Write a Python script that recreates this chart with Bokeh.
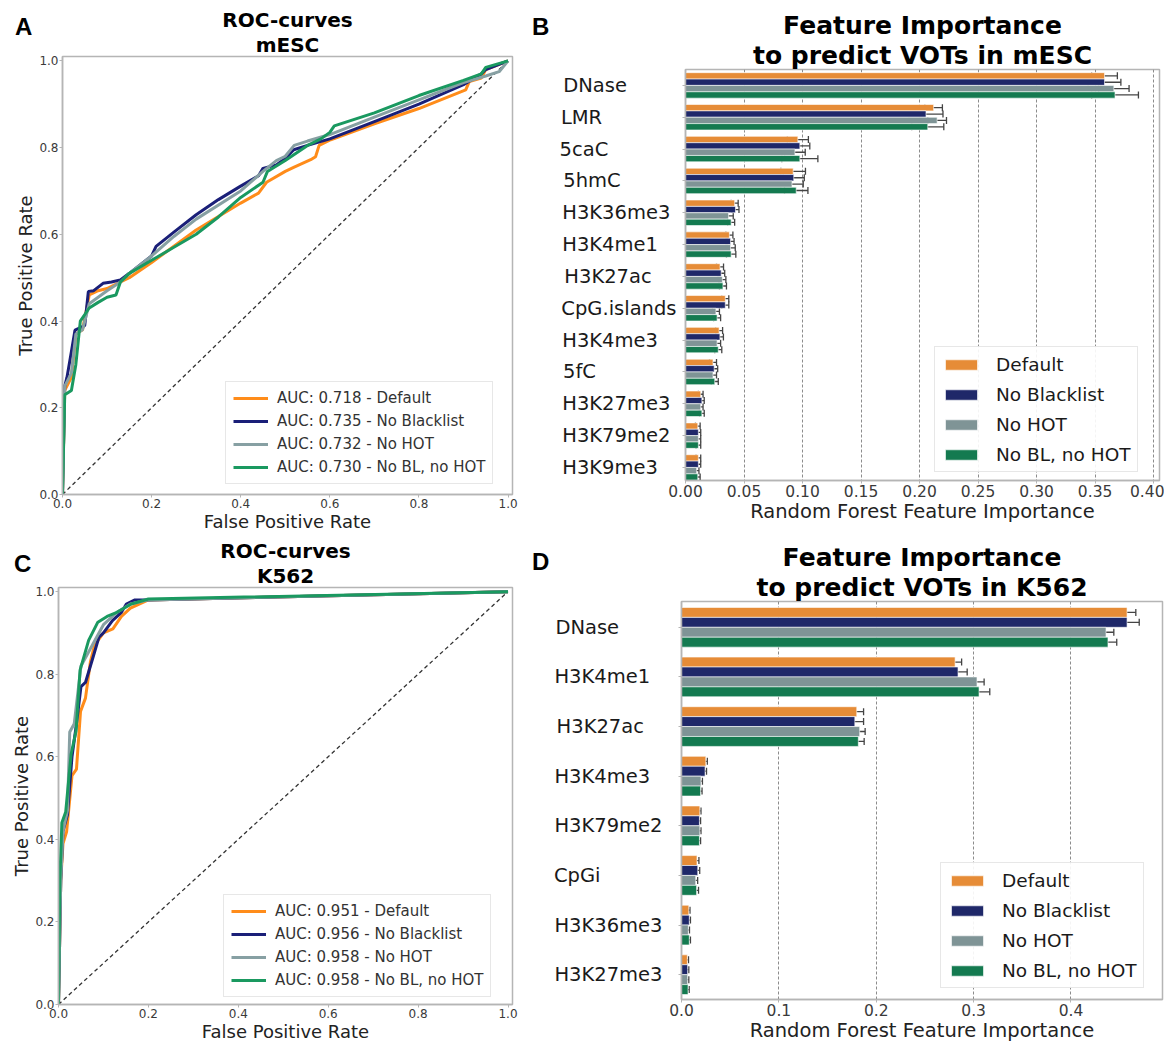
from bokeh.plotting import figure
from bokeh.layouts import row, column
from bokeh.models import (ColumnDataSource, Range1d, FixedTicker, PrintfTickFormatter,
                          Title, Whisker, TeeHead, Div)
from bokeh.embed import file_html
from bokeh.resources import INLINE

# ---------------- data ----------------
series_names = ["Default", "No Blacklist", "No HOT", "No BL, no HOT"]

# ROC mESC
mesc_auc = ["0.718", "0.735", "0.732", "0.730"]
mesc_default_fpr = [0, 0.005, 0.02, 0.03, 0.045, 0.06, 0.08, 0.1, 0.15, 0.2, 0.3, 0.4, 0.44, 0.458, 0.5, 0.52, 0.557, 0.568, 0.576, 0.602, 0.7, 0.8, 0.905, 0.913, 0.94, 0.95, 1.0]
mesc_default_tpr = [0, 0.24, 0.27, 0.37, 0.38, 0.46, 0.47, 0.475, 0.5, 0.535, 0.61, 0.672, 0.695, 0.72, 0.745, 0.755, 0.772, 0.779, 0.805, 0.818, 0.855, 0.89, 0.933, 0.952, 0.96, 0.98, 1.0]
mesc_noblack_fpr = [0, 0.005, 0.01, 0.02, 0.028, 0.045, 0.05, 0.058, 0.07, 0.091, 0.11, 0.13, 0.15, 0.2, 0.21, 0.25, 0.3, 0.35, 0.398, 0.44, 0.45, 0.48, 0.5, 0.519, 0.55, 0.6, 0.7, 0.8, 0.9, 0.94, 0.95, 1.0]
mesc_noblack_tpr = [0, 0.25, 0.27, 0.33, 0.379, 0.387, 0.39, 0.468, 0.47, 0.487, 0.49, 0.495, 0.51, 0.55, 0.572, 0.605, 0.645, 0.68, 0.71, 0.735, 0.752, 0.76, 0.775, 0.795, 0.805, 0.82, 0.86, 0.9, 0.945, 0.97, 0.98, 1.0]
mesc_nohot_fpr = [0, 0.005, 0.02, 0.03, 0.045, 0.06, 0.08, 0.1, 0.13, 0.15, 0.2, 0.25, 0.3, 0.4, 0.45, 0.48, 0.5, 0.52, 0.55, 0.6, 0.7, 0.8, 0.9, 0.95, 0.98, 1.0]
mesc_nohot_tpr = [0, 0.25, 0.28, 0.37, 0.38, 0.44, 0.455, 0.47, 0.49, 0.51, 0.55, 0.595, 0.635, 0.7, 0.745, 0.77, 0.78, 0.805, 0.815, 0.83, 0.87, 0.91, 0.95, 0.965, 0.975, 1.0]
mesc_nobl_nohot_fpr = [0, 0.005, 0.02, 0.03, 0.04, 0.06, 0.08, 0.1, 0.12, 0.13, 0.15, 0.2, 0.25, 0.3, 0.35, 0.4, 0.45, 0.46, 0.5, 0.55, 0.58, 0.6, 0.61, 0.7, 0.8, 0.9, 0.94, 0.95, 1.0]
mesc_nobl_nohot_tpr = [0, 0.23, 0.24, 0.3, 0.4, 0.43, 0.443, 0.455, 0.46, 0.49, 0.51, 0.54, 0.57, 0.6, 0.64, 0.685, 0.72, 0.745, 0.77, 0.805, 0.82, 0.835, 0.85, 0.88, 0.92, 0.955, 0.97, 0.985, 1.0]

# ROC K562
k562_auc = ["0.951", "0.956", "0.958", "0.958"]
k562_default_fpr = [0, 0.005, 0.01, 0.018, 0.03, 0.04, 0.049, 0.06, 0.071, 0.08, 0.1, 0.121, 0.14, 0.16, 0.2, 1.0]
k562_default_tpr = [0, 0.3, 0.39, 0.418, 0.554, 0.57, 0.71, 0.742, 0.83, 0.87, 0.9, 0.91, 0.94, 0.96, 0.98, 1.0]
k562_noblack_fpr = [0, 0.005, 0.01, 0.02, 0.03, 0.04, 0.05, 0.06, 0.076, 0.09, 0.1, 0.12, 0.14, 0.151, 0.17, 0.2, 1.0]
k562_noblack_tpr = [0, 0.3, 0.42, 0.46, 0.6, 0.68, 0.77, 0.78, 0.838, 0.89, 0.9, 0.93, 0.95, 0.97, 0.98, 0.98, 1.0]
k562_nohot_fpr = [0, 0.005, 0.01, 0.02, 0.025, 0.035, 0.05, 0.06, 0.08, 0.1, 0.13, 0.16, 0.2, 1.0]
k562_nohot_tpr = [0, 0.3, 0.42, 0.47, 0.66, 0.68, 0.82, 0.84, 0.88, 0.92, 0.95, 0.97, 0.98, 1.0]
k562_nobl_nohot_fpr = [0, 0.003, 0.0075, 0.016, 0.028, 0.039, 0.048, 0.067, 0.0875, 0.108, 0.13, 0.162, 0.2, 1.0]
k562_nobl_nohot_tpr = [0, 0.3, 0.44, 0.466, 0.606, 0.662, 0.81, 0.882, 0.926, 0.94, 0.95, 0.97, 0.982, 1.0]

# Feature importance mESC
mesc_features = ["DNase", "LMR", "5caC", "5hmC", "H3K36me3", "H3K4me1", "H3K27ac",
                 "CpG.islands", "H3K4me3", "5fC", "H3K27me3", "H3K79me2", "H3K9me3"]
mesc_imp_default = [0.358, 0.212, 0.096, 0.092, 0.042, 0.0375, 0.0295, 0.034, 0.0287, 0.0235, 0.013, 0.0105, 0.011]
mesc_imp_noblack = [0.358, 0.2055, 0.0977, 0.0925, 0.0427, 0.0385, 0.0305, 0.034, 0.0294, 0.0245, 0.014, 0.011, 0.011]
mesc_imp_nohot = [0.366, 0.215, 0.0935, 0.091, 0.0368, 0.0385, 0.0315, 0.026, 0.027, 0.0235, 0.013, 0.011, 0.0095]
mesc_imp_nobl_nohot = [0.367, 0.207, 0.0977, 0.0946, 0.039, 0.039, 0.032, 0.027, 0.028, 0.025, 0.014, 0.011, 0.0105]
mesc_err_default = [0.011, 0.0075, 0.009, 0.0105, 0.003, 0.003, 0.003, 0.003, 0.003, 0.003, 0.002, 0.002, 0.002]
mesc_err_noblack = [0.014, 0.0145, 0.0085, 0.009, 0.003, 0.003, 0.003, 0.003, 0.003, 0.003, 0.002, 0.002, 0.002]
mesc_err_nohot = [0.013, 0.008, 0.0088, 0.0096, 0.004, 0.004, 0.003, 0.003, 0.003, 0.003, 0.002, 0.002, 0.002]
mesc_err_nobl_nohot = [0.02, 0.0137, 0.0154, 0.01, 0.003, 0.004, 0.003, 0.003, 0.003, 0.003, 0.002, 0.002, 0.002]

# Feature importance K562
k562_features = ["DNase", "H3K4me1", "H3K27ac", "H3K4me3", "H3K79me2", "CpGi", "H3K36me3", "H3K27me3"]
k562_imp_default = [0.4576, 0.281, 0.180, 0.025, 0.0188, 0.0159, 0.0075, 0.006]
k562_imp_noblack = [0.4576, 0.284, 0.178, 0.0242, 0.0184, 0.0167, 0.008, 0.0063]
k562_imp_nohot = [0.436, 0.3035, 0.183, 0.020, 0.0188, 0.0146, 0.007, 0.0063]
k562_imp_nobl_nohot = [0.438, 0.3056, 0.1816, 0.0196, 0.0184, 0.0155, 0.008, 0.0067]
k562_err_default = [0.009, 0.0067, 0.007, 0.0015, 0.0012, 0.002, 0.0012, 0.0012]
k562_err_noblack = [0.0125, 0.0094, 0.009, 0.0015, 0.0012, 0.002, 0.0012, 0.0012]
k562_err_nohot = [0.008, 0.0073, 0.0056, 0.0015, 0.0012, 0.002, 0.0012, 0.0012]
k562_err_nobl_nohot = [0.009, 0.011, 0.006, 0.0015, 0.0012, 0.002, 0.0012, 0.0012]

# ---------------- style ----------------
LINE_COLORS = ["#FF8C1A", "#1A1F78", "#87A0A3", "#1A9960"]
BAR_COLORS = ["#E68C37", "#1F2869", "#7F9496", "#147A50"]
FRAME = "#b5b5b5"
FONT = "DejaVu Sans"

# DejaVu Sans advance widths (em) used to left-align category labels
_W = {"A": .684, "B": .686, "C": .698, "D": .770, "G": .775, "H": .752, "K": .656, "L": .557,
      "M": .863, "N": .748, "R": .695, "a": .613, "c": .550, "d": .635, "e": .615, "f": .352,
      "h": .634, "i": .278, "l": .278, "m": .974, "n": .634, "p": .635, "s": .521, ".": .318,
      "0": .636, "1": .636, "2": .636, "3": .636, "4": .636, "5": .636, "6": .636, "7": .636,
      "8": .636, "9": .636}


def left_padded(labels):
    widths = [sum(_W.get(ch, .6) for ch in s) for s in labels]
    wmax = max(widths)
    return [s + "\u00a0" * int(round((wmax - w) / 0.318)) for s, w in zip(labels, widths)]


def style_axes(p, tick_size, label_size, lab_standoff, ax_standoff):
    for ax in (p.xaxis[0], p.yaxis[0]):
        ax.axis_line_color = FRAME
        ax.axis_line_width = 1.5
        ax.major_tick_line_color = FRAME
        ax.major_tick_out = 3
        ax.major_tick_in = 0
        ax.minor_tick_out = 0
        ax.minor_tick_in = 0
        ax.major_label_text_font = FONT
        ax.major_label_text_font_size = tick_size
        ax.major_label_text_color = "#3a3a3a"
        ax.axis_label_text_font = FONT
        ax.axis_label_text_font_size = label_size
        ax.axis_label_text_font_style = "normal"
        ax.axis_label_text_color = "#222222"
        ax.major_label_standoff = lab_standoff
        ax.axis_label_standoff = ax_standoff
    p.outline_line_color = FRAME
    p.outline_line_width = 1.5
    p.outline_line_alpha = 1.0
    p.border_fill_color = None


def add_titles(p, t1, t2, tsize):
    # the first title added sits closest to the frame
    p.add_layout(Title(text=t2, align="center", text_font=FONT, text_font_style="bold",
                       text_font_size=tsize, text_color="black", standoff=-1), "above")
    p.add_layout(Title(text=t1, align="center", text_font=FONT, text_font_style="bold",
                       text_font_size=tsize, text_color="black", standoff=-1), "above")


def panel_letter(letter, left, top):
    html = ('<div style="padding:%dpx 0 0 %dpx; font-family:\'Liberation Sans\', Arial, sans-serif; '
            'font-weight:bold; font-size:24px; line-height:24px; color:#000;">%s</div>' % (top, left, letter))
    return Div(text=html, width=40, height=46, margin=(0, 0, -46, 0),
               styles={"position": "relative", "z-index": "10"})


def roc_figure(width, height, borders, series, aucs, titles, legend_loc):
    bl, br, bt, bb = borders
    p = figure(width=width, height=height, title=None, output_backend="svg", toolbar_location=None,
               x_range=Range1d(0, 1.01), y_range=Range1d(0, 1.01),
               min_border_left=bl, min_border_right=br, min_border_top=bt, min_border_bottom=bb)
    p.line([0, 1], [0, 1], line_color="#333333", line_dash="4 3", line_width=1.3)
    for (fpr, tpr), auc, name, col in zip(series, aucs, series_names, LINE_COLORS):
        p.line(fpr, tpr, line_color=col, line_width=3,
               legend_label="AUC: %s - %s" % (auc, name))
    p.xaxis.axis_label = "False Positive Rate"
    p.yaxis.axis_label = "True Positive Rate"
    ticks = [0.0, 0.2, 0.4, 0.6, 0.8, 1.0]
    p.xaxis.ticker = FixedTicker(ticks=ticks)
    p.yaxis.ticker = FixedTicker(ticks=ticks)
    p.xaxis.formatter = PrintfTickFormatter(format="%.1f")
    p.yaxis.formatter = PrintfTickFormatter(format="%.1f")
    p.xgrid.visible = False
    p.ygrid.visible = False
    style_axes(p, "12px", "18px", 1, 0)
    lg = p.legend[0]
    lg.location = legend_loc
    lg.label_text_font = FONT
    lg.label_text_font_size = "15px"
    lg.label_text_color = "#333333"
    lg.glyph_width = 35
    lg.glyph_height = 18
    lg.label_height = 18
    lg.label_standoff = 9
    lg.spacing = 5
    lg.padding = 7
    lg.border_line_color = "#d0d0d0"
    lg.border_line_width = 1
    lg.background_fill_alpha = 0.9
    add_titles(p, titles[0], titles[1], "20px")
    return p


def imp_figure(width, height, borders, features, vals, errs, xmax, ystart, yend, ticks, fmt,
               tick_size, titles, legend_loc, lab_standoff):
    bl, br, bt, bb = borders
    p = figure(width=width, height=height, title=None, output_backend="svg", toolbar_location=None,
               x_range=Range1d(0, xmax), y_range=Range1d(ystart, yend),
               min_border_left=bl, min_border_right=br, min_border_top=bt, min_border_bottom=bb)
    n = len(features)
    offsets = [-0.3, -0.1, 0.1, 0.3]
    whisk = []
    for v, e, name, col, off in zip(vals, errs, series_names, BAR_COLORS, offsets):
        ys = [i + off for i in range(n)]
        src = ColumnDataSource(dict(y=ys, right=v, lo=[a - b for a, b in zip(v, e)],
                                    hi=[a + b for a, b in zip(v, e)]))
        p.hbar(y="y", left=0, right="right", height=0.2, source=src, fill_color=col,
               line_color="white", line_width=0.6, legend_label=name)
        whisk.append(src)
    for src in whisk:
        p.add_layout(Whisker(source=src, base="y", lower="lo", upper="hi", dimension="width",
                             line_color="#444444", line_width=1.3,
                             upper_head=TeeHead(size=7, line_color="#444444", line_width=1.3),
                             lower_head=TeeHead(size=7, line_color="#444444", line_width=1.3)))
    p.xaxis.axis_label = "Random Forest Feature Importance"
    p.xaxis.ticker = FixedTicker(ticks=ticks)
    p.xaxis.formatter = PrintfTickFormatter(format=fmt)
    p.yaxis.ticker = FixedTicker(ticks=list(range(n)))
    p.ygrid.visible = False
    p.xgrid.grid_line_color = "#8c8c8c"
    p.xgrid.grid_line_dash = "3 2"
    p.xgrid.grid_line_width = 1
    style_axes(p, tick_size, "19.5px", 1, 0)
    p.yaxis.major_label_overrides = {i: f for i, f in enumerate(left_padded(features))}
    p.yaxis.major_label_text_font_size = "19.5px"
    p.yaxis.major_label_text_color = "#1a1a1a"
    p.yaxis.major_label_standoff = lab_standoff
    lg = p.legend[0]
    lg.location = legend_loc
    lg.label_text_font = FONT
    lg.label_text_font_size = "18.5px"
    lg.label_text_color = "#1a1a1a"
    lg.glyph_width = 40
    lg.glyph_height = 13
    lg.label_height = 22
    lg.label_standoff = 15
    lg.spacing = 8
    lg.padding = 6
    lg.border_line_color = "#d0d0d0"
    lg.background_fill_alpha = 0.9
    add_titles(p, titles[0], titles[1], "25px")
    return p


pA = roc_figure(530, 534, (62, 18, 56, 40),
                [(mesc_default_fpr, mesc_default_tpr), (mesc_noblack_fpr, mesc_noblack_tpr),
                 (mesc_nohot_fpr, mesc_nohot_tpr), (mesc_nobl_nohot_fpr, mesc_nobl_nohot_tpr)],
                mesc_auc, ("ROC-curves", "mESC"), (163, 10))

pB = imp_figure(634, 534, (155, 5, 69, 54), mesc_features,
                [mesc_imp_default, mesc_imp_noblack, mesc_imp_nohot, mesc_imp_nobl_nohot],
                [mesc_err_default, mesc_err_noblack, mesc_err_nohot, mesc_err_nobl_nohot],
                0.405, 12.41, -0.5, [0.0, 0.05, 0.10, 0.15, 0.20, 0.25, 0.30, 0.35, 0.40], "%.2f",
                "15.5px", ("Feature Importance", "to predict VOTs in mESC"), (249, 8), 6)

pC = roc_figure(530, 512, (58, 18, 53, 42),
                [(k562_default_fpr, k562_default_tpr), (k562_noblack_fpr, k562_noblack_tpr),
                 (k562_nohot_fpr, k562_nohot_tpr), (k562_nobl_nohot_fpr, k562_nobl_nohot_tpr)],
                k562_auc, ("ROC-curves", "K562"), (165, 7))

pD = imp_figure(634, 512, (151, 2, 67, 47), k562_features,
                [k562_imp_default, k562_imp_noblack, k562_imp_nohot, k562_imp_nobl_nohot],
                [k562_err_default, k562_err_noblack, k562_err_nohot, k562_err_nobl_nohot],
                0.494, 7.5, -0.52, [0.0, 0.1, 0.2, 0.3, 0.4], "%.1f",
                "15.5px", ("Feature Importance", "to predict VOTs in K562"), (259, 11), 16)

layout = column(
    row(column(panel_letter("A", 15, 15), pA), column(panel_letter("B", 2, 15), pB)),
    row(column(panel_letter("C", 14, 18), pC), column(panel_letter("D", 2, 16), pD)),
)
open("out.html", "w").write(file_html(layout, INLINE))
